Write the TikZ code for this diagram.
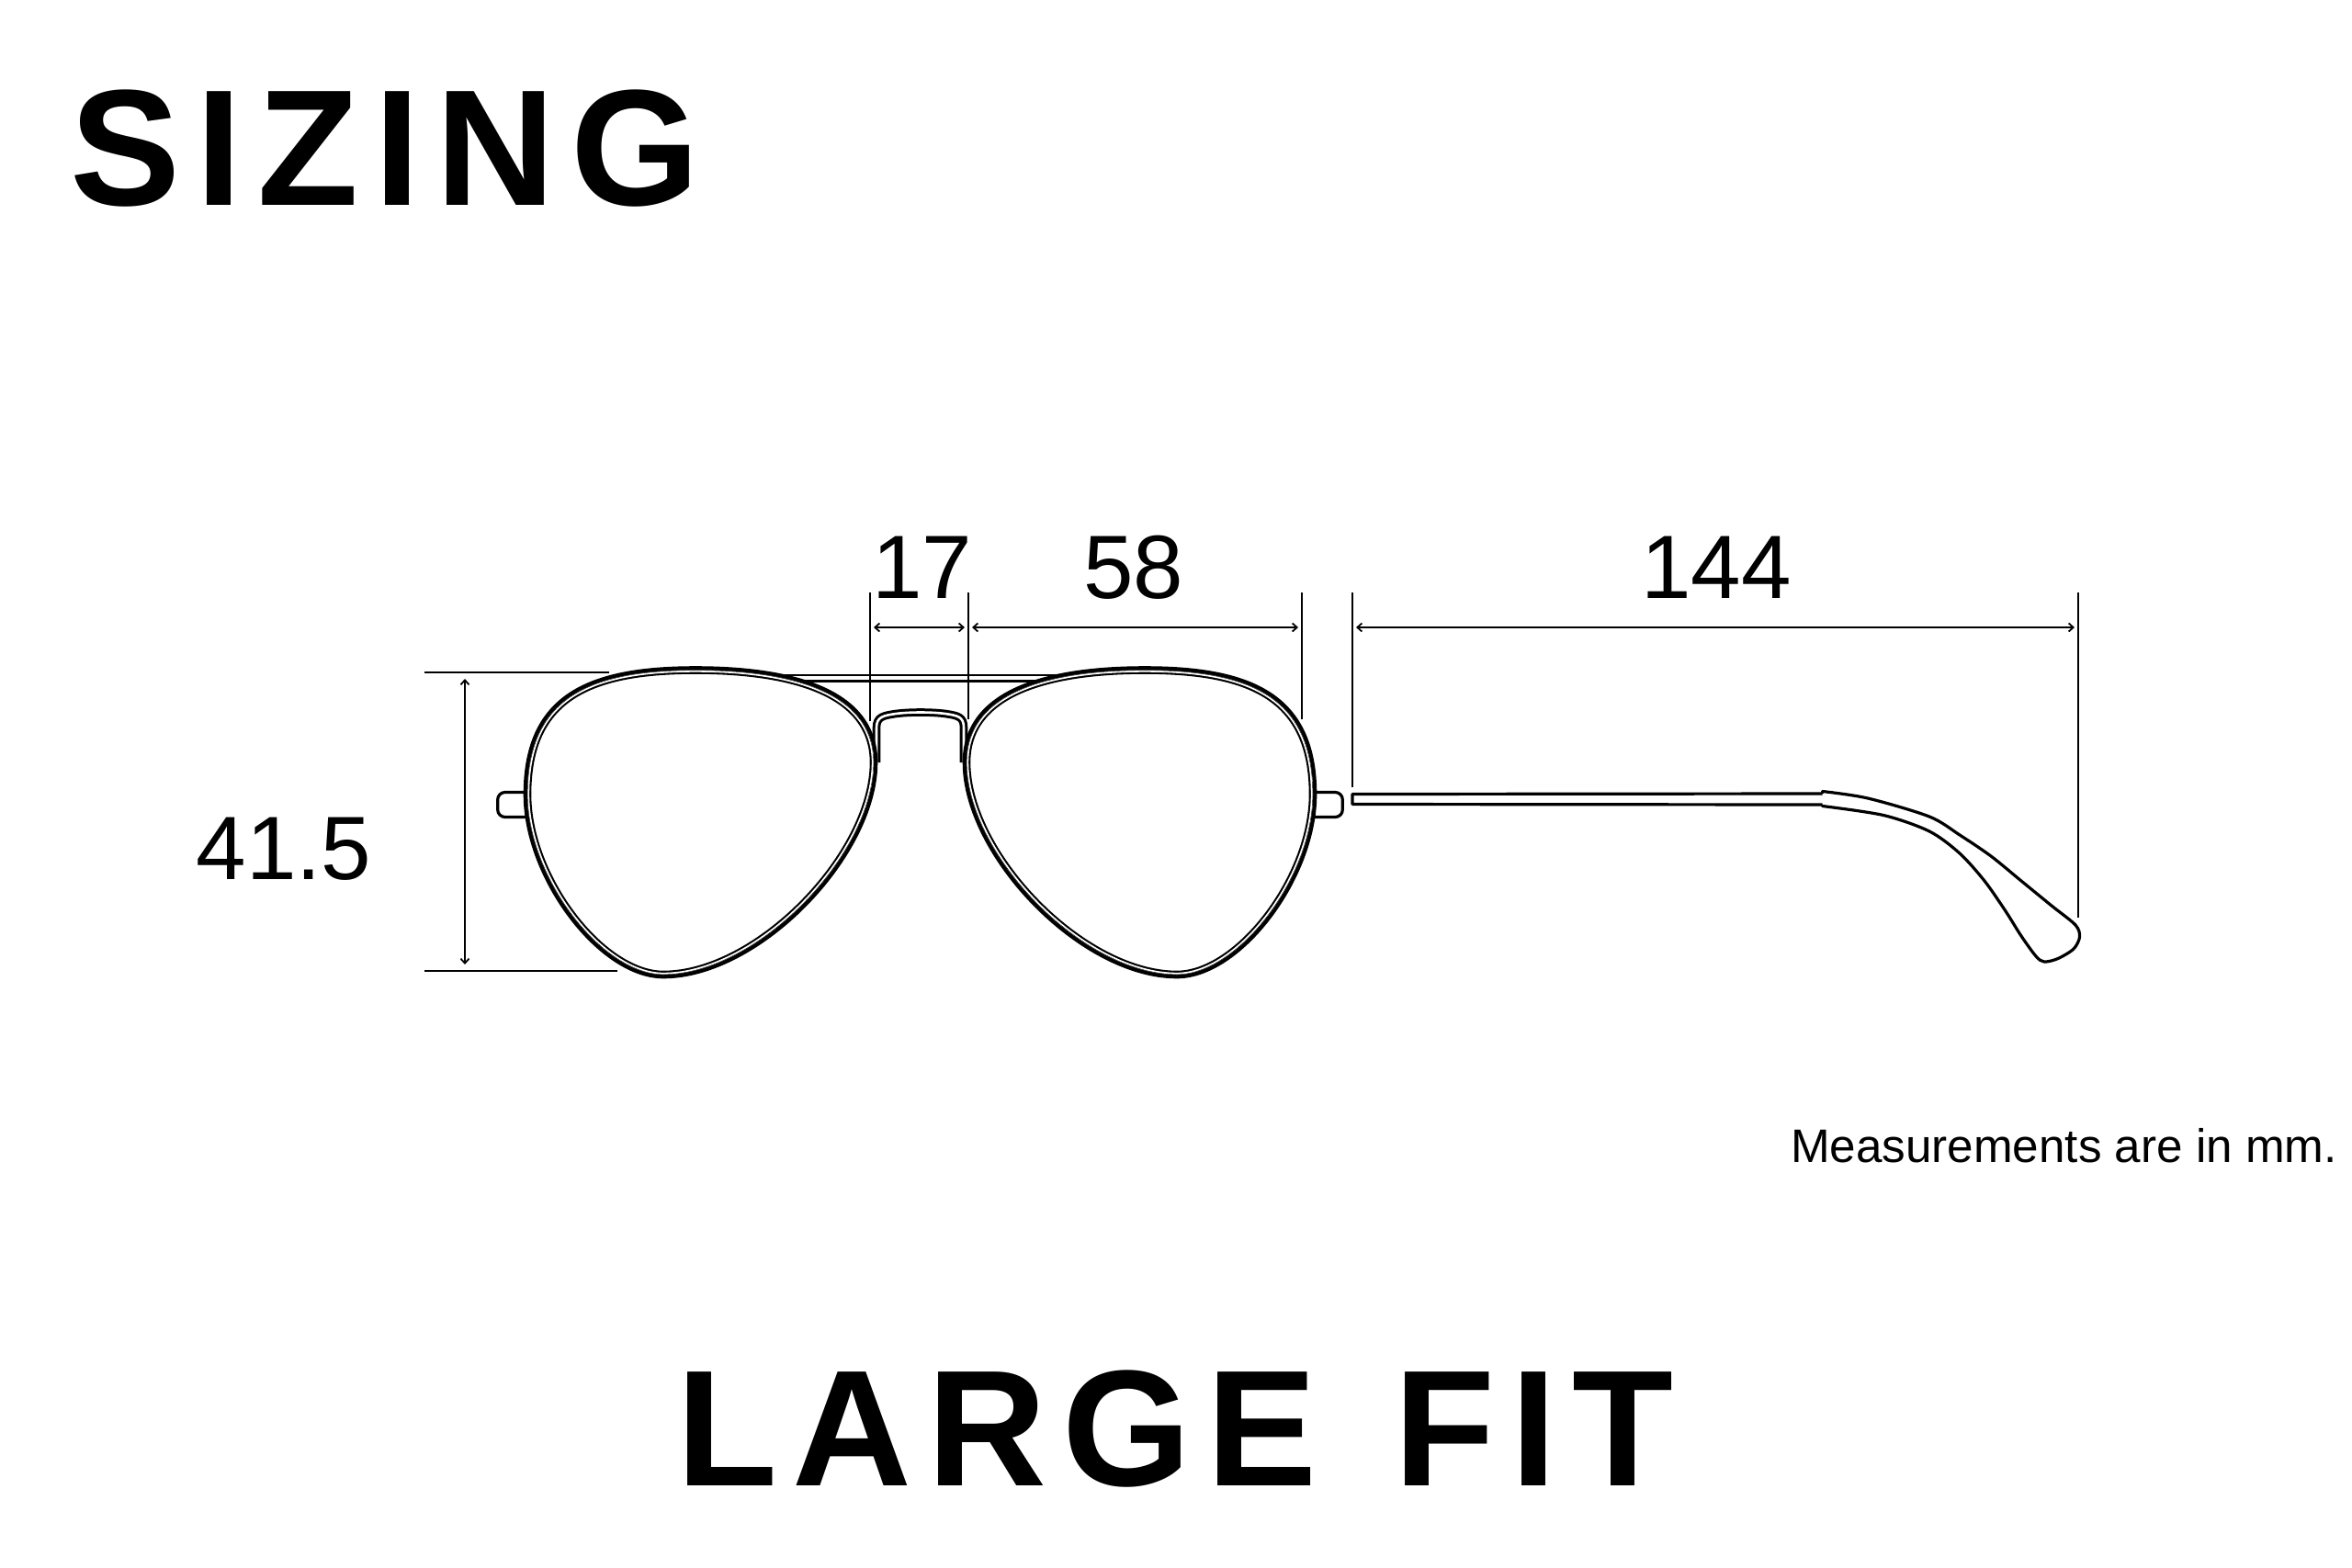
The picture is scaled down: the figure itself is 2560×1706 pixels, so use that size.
\documentclass[tikz,border=0pt]{standalone}
\usepackage{fontspec}
\setmainfont{Liberation Sans}
\usetikzlibrary{arrows.meta}
\begin{document}
\begin{tikzpicture}[x=1pt,y=-1pt, line join=round,
  thinframe/.style={line width=3.2pt, line cap=round},
  barline/.style={line width=2.6pt},
  extline/.style={line width=2pt},
  dimline/.style={line width=1.8pt, {Straight Barb[length=5pt,width=9pt]}-{Straight Barb[length=5pt,width=9pt]}},
  dimlabel/.style={inner sep=0pt, anchor=base, font=\fontsize{98}{110}\selectfont},
  titlefont/.style={inner sep=0pt, anchor=base west, font=\fontsize{180}{200}\selectfont\bfseries},
  notelabel/.style={inner sep=0pt, anchor=base east, font=\fontsize{51.2}{60}\selectfont}]
\def\lenspath{(757,729.5) .. controls (865,729.5) and (951,755) .. (951,830)
  .. controls (951,930) and (825,1061) .. (722,1061)
  .. controls (655,1061) and (574,955) .. (574,865)
  .. controls (574,760) and (640,729.5) .. (757,729.5) -- cycle}
% background
\fill[white] (0,0) rectangle (2560,1706);
\useasboundingbox (0,0) rectangle (2560,1706);

% top bar
\coordinate (barAL) at (850,735);
\coordinate (barAR) at (1152,735);
\coordinate (barBL) at (850,741.7);
\coordinate (barBR) at (1152,741.7);
\draw[barline] (barAL) -- (barAR);
\draw[barline] (barBL) -- (barBR);

% bridge
\draw[line width=8.6pt] (954,830) -- (954,792) .. controls (954,780) and (962,779) .. (975,777)
  .. controls (990,775) and (1014,775) .. (1029,777) .. controls (1042,779) and (1049,780) .. (1049,792) -- (1049,830);
\draw[white, line width=2.6pt] (954,832) -- (954,792) .. controls (954,780) and (962,779) .. (975,777)
  .. controls (990,775) and (1014,775) .. (1029,777) .. controls (1042,779) and (1049,780) .. (1049,792) -- (1049,832);

% lenses and hinges
\foreach \m/\s in {1/0, -1/2003} {
 \begin{scope}[xshift=\s pt, xscale=\m]
  \draw[thinframe, rounded corners=8pt] (580,862.5) -- (541.7,862.5) -- (541.7,889.5) -- (580,889.5);
  \fill[white] \lenspath;
  \draw[line width=8.6pt] \lenspath;
  \begin{scope}
   \clip \lenspath;
   \draw[white, line width=4.4pt] \lenspath;
   \draw[line width=0.8pt] \lenspath;
  \end{scope}
 \end{scope}
}

% temple
\draw[thinframe, line cap=butt] (1983.5,864) -- (1472,864.5) -- (1472,875.5) -- (1983.5,876);
\draw[thinframe] plot[smooth, tension=0.5] coordinates {
 (1983.5,861.5) (2033,869) (2100,889) (2133,909) (2167,932) (2200,959) (2233,986) (2259,1007)
 (2263.5,1020) (2257,1033) (2240,1043.5) (2225,1047) (2216,1041)
 (2200,1019) (2183,992) (2160,959) (2133,929) (2100,905) (2050,887.5) (1983.5,877.5)};
\draw[thinframe, line cap=butt] (1983.5,861.5) -- (1983.5,864);
\draw[thinframe, line cap=butt] (1983.5,876) -- (1983.5,877.5);

% dimension: height 41.5
\coordinate (hT1) at (462,732.3);
\coordinate (hT2) at (663,732.3);
\coordinate (hB1) at (462,1056.5);
\coordinate (hB2) at (672,1056.5);
\coordinate (hA1) at (506,739);
\coordinate (hA2) at (506,1050);
\draw[extline] (hT1) -- (hT2);
\draw[extline] (hB1) -- (hB2);
\draw[dimline] (hA1) -- (hA2);
\node[dimlabel] (lbl415) at (309,957) {41.5};

% dimension: bridge 17 and lens 58
\coordinate (e1t) at (947.3,645);
\coordinate (e1b) at (947.3,785);
\coordinate (e2t) at (1054,645);
\coordinate (e2b) at (1054,783);
\coordinate (e3t) at (1417,645);
\coordinate (e3b) at (1417,783);
\draw[extline] (e1t) -- (e1b);
\draw[extline] (e2t) -- (e2b);
\draw[extline] (e3t) -- (e3b);
\coordinate (a17l) at (951,683);
\coordinate (a17r) at (1050,683);
\coordinate (a58l) at (1058,683);
\coordinate (a58r) at (1413,683);
\draw[dimline] (a17l) -- (a17r);
\draw[dimline] (a58l) -- (a58r);
\node[dimlabel] (lbl17) at (1004,651) {17};
\node[dimlabel] (lbl58) at (1233.5,651) {58};

% dimension: temple 144
\coordinate (e4t) at (1472,645);
\coordinate (e4b) at (1472,857);
\coordinate (e5t) at (2262,645);
\coordinate (e5b) at (2262,999);
\draw[extline] (e4t) -- (e4b);
\draw[extline] (e5t) -- (e5b);
\coordinate (a144l) at (1476,683);
\coordinate (a144r) at (2258,683);
\draw[dimline] (a144l) -- (a144r);
\node[dimlabel] (lbl144) at (1868,651) {144};

% texts
\node[titlefont] (title) at (76,223) {S\kern17pt I\kern17pt Z\kern17pt I\kern17pt N\kern17pt G};
\node[titlefont] (fit) at (735.8,1617) {L\kern17pt A\kern17pt R\kern17pt G\kern17pt E\kern17pt\ \kern17pt F\kern17pt I\kern17pt T};
\node[notelabel] (note) at (2544,1265) {Measurements are in mm.};
\end{tikzpicture}
\end{document}
